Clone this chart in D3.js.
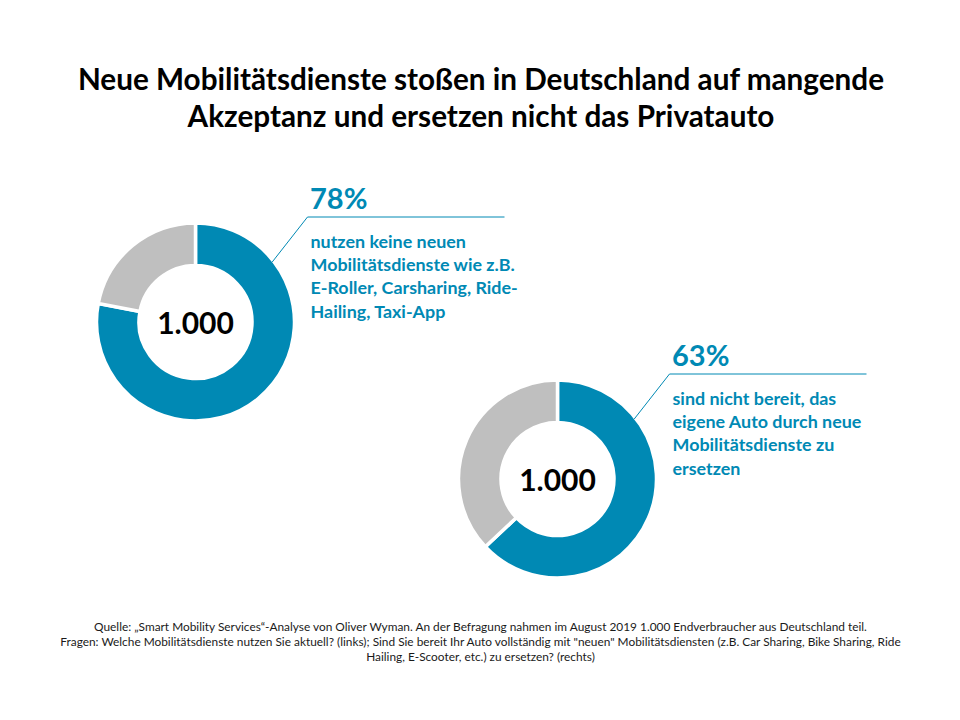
<!DOCTYPE html>
<html lang="de">
<head>
<meta charset="utf-8">
<script src="https://cdn.jsdelivr.net/npm/d3@7"></script>
<style>
  html, body { margin: 0; background: #fff; }
  svg { display: block; }
  text { font-family: Lato, "Open Sans", sans-serif; }
</style>
</head>
<body>
<div id="chart"></div>
<script>
const titleLines = [
  "Neue Mobilitätsdienste stoßen in Deutschland auf mangende",
  "Akzeptanz und ersetzen nicht das Privatauto",
]
const sourceLines = [
  "Quelle: „Smart Mobility Services“-Analyse von Oliver Wyman. An der Befragung nahmen im August 2019 1.000 Endverbraucher aus Deutschland teil.",
  "Fragen: Welche Mobilitätsdienste nutzen Sie aktuell? (links); Sind Sie bereit Ihr Auto vollständig mit \"neuen\" Mobilitätsdiensten (z.B. Car Sharing, Bike Sharing, Ride",
  "Hailing, E-Scooter, etc.) zu ersetzen? (rechts)",
]
const shares = [78, 63]
const respondents = ["1.000", "1.000"]
const notes = [
  ["nutzen keine neuen", "Mobilitätsdienste wie z.B.", "E-Roller, Carsharing, Ride-", "Hailing, Taxi-App"],
  ["sind nicht bereit, das", "eigene Auto durch neue", "Mobilitätsdienste zu", "ersetzen"],
]

const width = 960
const height = 720
const teal = "#0089b4"
const grey = "#bfbfbf"
const outer = 99
const inner = 56.5

const svg = d3.select("#chart").append("svg").attr("width", width).attr("height", height)

svg.append("g")
  .attr("text-anchor", "middle")
  .attr("font-weight", 700)
  .attr("font-size", 29.7)
  .attr("fill", "#000")
  .selectAll("text")
  .data(titleLines)
  .join("text")
  .attr("x", 481)
  .attr("y", (d, i) => 90 + i * 37)
  .text((d) => d)

const pie = d3.pie().sort(null).value((d) => d)
const arc = d3.arc().innerRadius(inner).outerRadius(outer)
const line = d3.line()

// one donut block per share, second one sits lower and to the right
const blockX = d3.scaleOrdinal().domain([0, 1]).range([195.5, 557.5])
const blockY = d3.scaleOrdinal().domain([0, 1]).range([322, 479])

shares.forEach((share, i) => {
  const g = svg.append("g").attr("transform", `translate(${blockX(i)},${blockY(i)})`)

  g.selectAll("path.slice")
    .data(pie([share, 100 - share]))
    .join("path")
    .attr("class", "slice")
    .attr("d", arc)
    .attr("fill", (d, j) => (j === 0 ? teal : grey))
    .attr("stroke", "#fff")
    .attr("stroke-width", 3.5)

  g.append("text")
    .attr("text-anchor", "middle")
    .attr("y", 12)
    .attr("font-size", 30)
    .attr("font-weight", 700)
    .attr("fill", "#000")
    .text(respondents[i])

  // leader from the ring edge up to the rule under the percentage
  const a = (52 * Math.PI) / 180
  const edge = outer - 1.75
  g.append("path")
    .attr("d", line([
      [edge * Math.sin(a), -edge * Math.cos(a)],
      [112, -105],
      [309, -105],
    ]))
    .attr("fill", "none")
    .attr("stroke", teal)
    .attr("stroke-width", 1)

  g.append("text")
    .attr("x", 114.5)
    .attr("y", -113)
    .attr("font-size", 29)
    .attr("font-weight", 700)
    .attr("fill", teal)
    .text(`${share}%`)

  g.append("g")
    .attr("font-size", 17.9)
    .attr("font-weight", 700)
    .attr("fill", teal)
    .selectAll("text")
    .data(notes[i])
    .join("text")
    .attr("x", 115)
    .attr("y", (d, k) => -74 + k * 23.2)
    .text((d) => d)
})

svg.append("g")
  .attr("text-anchor", "middle")
  .attr("font-size", 11.87)
  .attr("fill", "#1a1a1a")
  .selectAll("text")
  .data(sourceLines)
  .join("text")
  .attr("x", 480.5)
  .attr("y", (d, i) => 631 + i * 15)
  .text((d) => d)
</script>
</body>
</html>
